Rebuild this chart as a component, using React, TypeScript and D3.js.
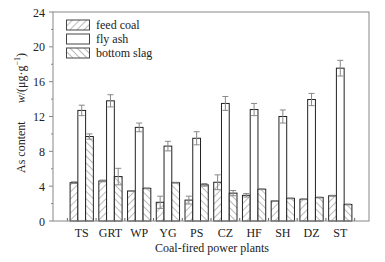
import React from "react";
import * as d3 from "d3";

const categories = ["TS", "GRT", "WP", "YG", "PS", "CZ", "HF", "SH", "DZ", "ST"];
const feedCoal = [4.4, 4.6, 3.45, 2.15, 2.4, 4.45, 2.95, 2.3, 2.5, 2.9];
const feedCoalErr = [0.1, 0.1, 0.05, 0.7, 0.45, 0.85, 0.2, 0.05, 0.05, 0.05];
const flyAsh = [12.7, 13.8, 10.75, 8.6, 9.5, 13.5, 12.8, 12.0, 13.95, 17.55];
const flyAshErr = [0.6, 0.7, 0.5, 0.55, 0.75, 0.8, 0.7, 0.75, 0.7, 0.9];
const bottomSlag = [9.7, 5.1, 3.75, 4.4, 4.15, 3.2, 3.65, 2.6, 2.7, 1.9];
const bottomSlagErr = [0.3, 0.95, 0.05, 0.05, 0.15, 0.3, 0.05, 0.05, 0.05, 0.05];
const yTicks = [0, 4, 8, 12, 16, 20, 24];
const yMinorTicks = [2, 6, 10, 14, 18, 22];
const legendLabels = ["feed coal", "fly ash", "bottom slag"];

const W = 385;
const H = 262;
const L = 53, R = 369, T = 12, B = 221;
const FONT = "'Liberation Serif', 'Times New Roman', serif";

export default function App() {
  const x = d3.scaleLinear().domain([0, 11]).range([L, R]);
  const y = d3.scaleLinear().domain([0, 24]).range([B, T]);
  const bw = 0.27;
  const series = [
    { vals: feedCoal, errs: feedCoalErr, fill: "url(#hatchF)", off: -1.5 },
    { vals: flyAsh, errs: flyAshErr, fill: "#fff", off: -0.5 },
    { vals: bottomSlag, errs: bottomSlagErr, fill: "url(#hatchB)", off: 0.5 },
  ];
  const xMinor = d3.range(0.5, 11, 1);
  const pxW = x(bw) - x(0);
  return (
    <svg width={W} height={H} style={{ position: "absolute", left: 0, top: 0, background: "#fff" }} fontFamily={FONT}>
      <defs>
        <pattern id="hatchF" patternUnits="userSpaceOnUse" width="5" height="5" patternTransform="rotate(45)">
          <rect width="5" height="5" fill="#fff" />
          <line x1="0" y1="0" x2="0" y2="5" stroke="#555" strokeWidth="0.8" />
        </pattern>
        <pattern id="hatchB" patternUnits="userSpaceOnUse" width="5" height="5" patternTransform="rotate(-45)">
          <rect width="5" height="5" fill="#fff" />
          <line x1="0" y1="0" x2="0" y2="5" stroke="#555" strokeWidth="0.8" />
        </pattern>
      </defs>
      <rect x={0} y={0} width={W} height={H} fill="#fff" />
      {xMinor.map((t) => (
        <line key={"xm" + t} x1={x(t)} x2={x(t)} y1={B} y2={B - 3} stroke="#666" strokeWidth={1} />
      ))}
      {series.map((s, si) =>
        categories.map((c, i) => {
          const x0 = x(i + 1 + s.off * bw);
          const yv = y(s.vals[i]);
          return (
            <rect key={si + c} x={x0} y={yv} width={pxW} height={B - yv} fill={s.fill} stroke="#222" strokeWidth={1} />
          );
        })
      )}
      {series.map((s, si) =>
        categories.map((c, i) => {
          const cx = x(i + 1 + (s.off + 0.5) * bw);
          const hi = y(s.vals[i] + s.errs[i]);
          const lo = y(s.vals[i] - s.errs[i]);
          return (
            <g key={"e" + si + c} stroke="#888" strokeWidth={1}>
              <line x1={cx} x2={cx} y1={hi} y2={lo} />
              <line x1={cx - 3} x2={cx + 3} y1={hi} y2={hi} />
              <line x1={cx - 3} x2={cx + 3} y1={lo} y2={lo} />
            </g>
          );
        })
      )}
      <rect x={L} y={T} width={R - L} height={B - T} fill="none" stroke="#888" strokeWidth={1} />
      {yTicks.map((t) => (
        <g key={"y" + t}>
          <line x1={L - 4} x2={L} y1={y(t)} y2={y(t)} stroke="#888" />
          <text x={L - 8} y={y(t) + 4.5} fontSize={12} textAnchor="end" fill="#222">{t}</text>
        </g>
      ))}
      {yMinorTicks.map((t) => (
        <line key={"ym" + t} x1={L - 2} x2={L} y1={y(t)} y2={y(t)} stroke="#888" />
      ))}
      {categories.map((c, i) => (
        <text key={"c" + c} x={x(i + 1)} y={237} fontSize={12} textAnchor="middle" fill="#222">{c}</text>
      ))}
      <text x={212} y={252} fontSize={12} textAnchor="middle" fill="#222">Coal-fired power plants</text>
      <text transform={`translate(25,113) rotate(-90)`} fontSize={12} textAnchor="middle" fill="#222">
        <tspan>As content</tspan>
        <tspan dx={18} fontStyle="italic">w</tspan>
        <tspan>/(μg·g</tspan>
        <tspan fontSize={8} dy={-5}>−1</tspan>
        <tspan dy={5}>)</tspan>
      </text>
      {legendLabels.map((lab, i) => (
        <g key={"l" + lab}>
          <rect x={66.5} y={20 + i * 14} width={23} height={10} fill={series[i].fill} stroke="#444" strokeWidth={1} />
          <text x={96} y={29 + i * 14} fontSize={12} fill="#222">{lab}</text>
        </g>
      ))}
    </svg>
  );
}
